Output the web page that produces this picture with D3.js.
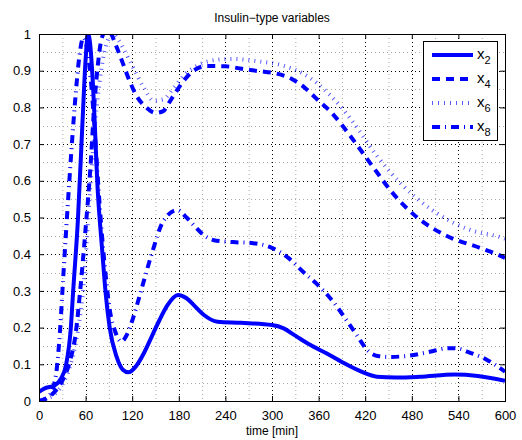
<!DOCTYPE html>
<html>
<head>
<meta charset="utf-8">
<script src="https://cdn.jsdelivr.net/npm/d3@7"></script>
<style>
  body { margin: 0; background: #fff; }
  text { font-family: "Liberation Sans", Arial, sans-serif; }
</style>
</head>
<body>
<div id="chart"></div>
<script>
// time [min], value pairs
const x2Data = [[0,0.025],[8,0.035],[20,0.042],[28,0.06],[35,0.1],[41,0.2],[44,0.3],[50,0.49],[56,0.76],[60,0.93],[63,1.0],[66,0.97],[69,0.88],[76,0.56],[81,0.42],[86,0.29],[91,0.2],[100,0.12],[108,0.085],[115,0.078],[125,0.095],[135,0.13],[145,0.175],[155,0.22],[165,0.26],[179,0.289],[190,0.28],[200,0.26],[212,0.235],[230,0.216],[260,0.213],[300,0.207],[315,0.198],[330,0.178],[349,0.153],[370,0.13],[391,0.105],[415,0.08],[435,0.066],[460,0.064],[490,0.066],[535,0.072],[565,0.068],[600,0.055]];
const x4Data = [[0,0.0],[10,0.008],[20,0.025],[30,0.055],[40,0.11],[47,0.18],[53,0.3],[60,0.47],[66,0.63],[71,0.8],[76,0.92],[81,0.99],[87,1.01],[93,1.0],[98,0.975],[108,0.92],[117,0.87],[126,0.83],[138,0.8],[150,0.785],[160,0.79],[169,0.818],[184,0.866],[197,0.897],[216,0.913],[240,0.912],[259,0.906],[282,0.899],[304,0.893],[326,0.877],[342,0.854],[359,0.82],[377,0.785],[390,0.752],[403,0.716],[430,0.638],[456,0.565],[487,0.5],[523,0.452],[568,0.417],[587,0.402],[600,0.39]];
const x6Data = [[0,0.0],[10,0.006],[20,0.018],[30,0.045],[40,0.095],[50,0.19],[58,0.33],[65,0.55],[72,0.75],[80,0.9],[88,0.98],[95,1.0],[102,0.985],[110,0.955],[121,0.91],[134,0.857],[148,0.818],[160,0.822],[173,0.852],[188,0.89],[205,0.915],[230,0.93],[250,0.932],[280,0.926],[314,0.914],[340,0.892],[358,0.866],[375,0.833],[391,0.796],[405,0.758],[435,0.668],[469,0.586],[512,0.512],[555,0.466],[593,0.447],[600,0.442]];
const x8Data = [[0,0.0],[10,0.008],[18,0.035],[23,0.09],[27,0.19],[31,0.33],[36,0.5],[41,0.66],[47,0.83],[52,0.94],[57,0.99],[62,0.96],[66,0.89],[70,0.79],[75,0.63],[80,0.48],[86,0.34],[91,0.25],[98,0.19],[106,0.162],[113,0.18],[121,0.225],[130,0.29],[145,0.4],[160,0.49],[178,0.52],[190,0.5],[201,0.475],[212,0.452],[225,0.438],[250,0.433],[276,0.43],[297,0.42],[321,0.39],[340,0.352],[362,0.31],[379,0.27],[396,0.22],[409,0.18],[424,0.136],[438,0.122],[450,0.12],[475,0.123],[503,0.134],[527,0.144],[540,0.143],[552,0.134],[577,0.112],[600,0.08]];

const seriesNames = ["2", "4", "6", "8"];
const seriesData = [x2Data, x4Data, x6Data, x8Data];
const seriesStyles = [
  { dash: null, width: 4, opacity: 1 },
  { dash: "8,6", width: 4, opacity: 1 },
  { dash: "1,5", width: 4, opacity: 0.65 },
  { dash: "8,5,1,5", width: 4, opacity: 1 }
];

const xTicks = d3.range(0, 601, 60);
const yTicks = d3.range(0, 1.0001, 0.1);
const xMinor = d3.range(30, 600, 60);
const yMinor = d3.range(0.05, 1, 0.1);

const width = 522, height = 440;
const margin = { top: 34, right: 17, bottom: 39, left: 39 };
const bw = width - margin.left - margin.right;
const bh = height - margin.top - margin.bottom;

const svg = d3.select("#chart").append("svg")
  .attr("width", width).attr("height", height);

const bounds = svg.append("g")
  .attr("transform", `translate(${margin.left},${margin.top})`);

const xScale = d3.scaleLinear().domain([0, 600]).range([0, bw]);
const yScale = d3.scaleLinear().domain([0, 1]).range([bh, 0]);

// grid, minor first (grey), then major (black)
const grid = bounds.append("g");
xMinor.forEach(t => grid.append("line")
  .attr("x1", xScale(t) + 0.5).attr("x2", xScale(t) + 0.5)
  .attr("y1", 0).attr("y2", bh)
  .attr("stroke", "#aaa").attr("stroke-dasharray", "1,3"));
yMinor.forEach(v => grid.append("line")
  .attr("y1", Math.round(yScale(v)) + 0.5).attr("y2", Math.round(yScale(v)) + 0.5)
  .attr("x1", 0).attr("x2", bw)
  .attr("stroke", "#aaa").attr("stroke-dasharray", "1,3"));
xTicks.slice(1, -1).forEach(t => grid.append("line")
  .attr("x1", Math.round(xScale(t)) + 0.5).attr("x2", Math.round(xScale(t)) + 0.5)
  .attr("y1", 0).attr("y2", bh)
  .attr("stroke", "#000").attr("stroke-dasharray", "1,3"));
yTicks.slice(1, -1).forEach(v => grid.append("line")
  .attr("y1", Math.round(yScale(v)) + 0.5).attr("y2", Math.round(yScale(v)) + 0.5)
  .attr("x1", 0).attr("x2", bw)
  .attr("stroke", "#000").attr("stroke-dasharray", "1,3"));

// curves
bounds.append("clipPath").attr("id", "clip")
  .append("rect").attr("width", bw).attr("height", bh);

const lineGen = d3.line()
  .x(d => xScale(d[0]))
  .y(d => yScale(d[1]))
  .curve(d3.curveMonotoneX);

const curves = bounds.append("g").attr("clip-path", "url(#clip)");
seriesData.forEach((data, i) => {
  curves.append("path")
    .attr("d", lineGen(data))
    .attr("fill", "none")
    .attr("stroke", "#0000ff")
    .attr("stroke-width", seriesStyles[i].width)
    .attr("stroke-dasharray", seriesStyles[i].dash)
    .attr("opacity", seriesStyles[i].opacity);
});

// axes with inward ticks on all sides
const xAxis = d3.axisBottom(xScale).tickValues(xTicks).tickSizeInner(-5).tickSizeOuter(0).tickPadding(10);
const yAxis = d3.axisLeft(yScale).tickValues(yTicks).tickSizeInner(-5).tickSizeOuter(0).tickPadding(8)
  .tickFormat(d => d3.format("")(+d.toFixed(1)));

const gx = bounds.append("g").attr("transform", `translate(0,${bh})`).call(xAxis);
const gy = bounds.append("g").call(yAxis);
bounds.append("g").call(d3.axisTop(xScale).tickValues(xTicks).tickSizeInner(-5).tickSizeOuter(0).tickFormat(""));
bounds.append("g").attr("transform", `translate(${bw},0)`)
  .call(d3.axisRight(yScale).tickValues(yTicks).tickSizeInner(-5).tickSizeOuter(0).tickFormat(""));

[gx, gy].forEach(g => g.selectAll("text")
  .attr("font-size", 13).attr("fill", "#000")
  .style("font-family", "'Liberation Sans', Arial, sans-serif"));
bounds.selectAll(".domain").remove();
bounds.selectAll(".tick line").attr("stroke", "#000");

bounds.append("rect")
  .attr("x", 0.5).attr("y", 0.5)
  .attr("width", bw).attr("height", bh)
  .attr("fill", "none").attr("stroke", "#000").attr("stroke-width", 1);

// labels
svg.append("text")
  .attr("x", margin.left + bw / 2).attr("y", 22)
  .attr("text-anchor", "middle").attr("font-size", 12)
  .text("Insulin\u2212type variables");

svg.append("text")
  .attr("x", margin.left + bw / 2).attr("y", 435)
  .attr("text-anchor", "middle").attr("font-size", 12)
  .text("time [min]");

// legend
const legend = svg.append("g").attr("transform", "translate(423,41)");
legend.append("rect")
  .attr("x", 0.5).attr("y", 0.5).attr("width", 74).attr("height", 99)
  .attr("fill", "#fff").attr("stroke", "#000").attr("stroke-width", 1);

seriesNames.forEach((name, i) => {
  const y = 14 + i * 24;
  legend.append("line")
    .attr("x1", 9).attr("x2", 50)
    .attr("y1", y).attr("y2", y)
    .attr("stroke", "#0000ff")
    .attr("stroke-width", seriesStyles[i].width)
    .attr("stroke-dasharray", seriesStyles[i].dash)
    .attr("opacity", seriesStyles[i].opacity);
  const t = legend.append("text")
    .attr("x", 54).attr("y", y + 4)
    .attr("font-size", 15);
  t.append("tspan").text("x");
  t.append("tspan").attr("dy", 5).attr("font-size", 11).text(name);
});
</script>
</body>
</html>
